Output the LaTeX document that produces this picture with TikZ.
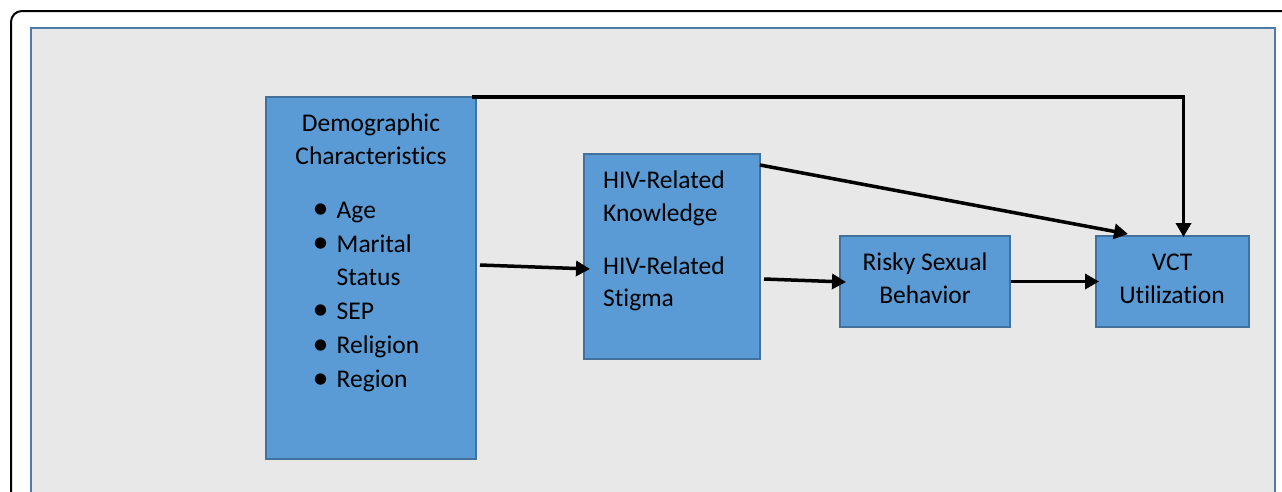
\documentclass[tikz,border=0pt]{standalone}
\usepackage{fontspec}
\setmainfont{Carlito}[Ligatures=NoCommon]
\usetikzlibrary{arrows.meta,calc}
\definecolor{boxfill}{HTML}{5B9BD5}
\definecolor{boxline}{HTML}{41719C}
\definecolor{panel}{HTML}{E8E8E8}
\definecolor{panelline}{HTML}{4F7BAA}
\begin{document}
\begin{tikzpicture}[x=1pt,y=-1pt,
  box/.style={draw=boxline,fill=boxfill,line width=1.5pt,inner sep=0pt,outer sep=0pt,anchor=north west},
  txt/.style={font=\fontsize{25.5}{33}\selectfont,inner sep=0pt,anchor=base},
  txtl/.style={txt,anchor=base west},
  bul/.style={font=\fontsize{32}{32}\selectfont,inner sep=0pt,anchor=base},
  conn/.style={line width=3.5pt,-{Triangle[length=14pt,width=15pt]}},
]
\useasboundingbox (0,0) rectangle (1282,491);
\begin{scope}
  \clip (0,0) rectangle (1282,491);
  \draw[line width=2pt,rounded corners=11pt] (11,11) rectangle (1320,540);
  \draw[panelline,fill=panel,line width=2.2pt] (31,28) rectangle (1275,540);
\end{scope}

\node[box,minimum width=210pt,minimum height=362pt] (demo) at (266,97) {};
\node[box,minimum width=176pt,minimum height=205pt] (hiv) at (584,154) {};
\node[box,minimum width=170pt,minimum height=91pt] (risky) at (840,236) {};
\node[box,minimum width=153pt,minimum height=91pt] (vct) at (1096,236) {};

% Demographic text
\node[txt] (d1) at (371,131.7) {Demographic};
\node[txt] (d2) at (371,164) {Characteristics};
\node[bul] (b1) at (320.5,218.5) {\textbullet};
\node[txtl] (l1) at (336.5,218) {Age};
\node[bul] (b2) at (320.5,252.5) {\textbullet};
\node[txtl] (l2) at (336.5,252) {Marital};
\node[txtl] (l3) at (336.5,285.5) {Status};
\node[bul] (b3) at (320.5,319.5) {\textbullet};
\node[txtl] (l4) at (336.5,319) {SEP};
\node[bul] (b4) at (320.5,354) {\textbullet};
\node[txtl] (l5) at (336.5,353.5) {Religion};
\node[bul] (b5) at (320.5,388) {\textbullet};
\node[txtl] (l6) at (336.5,387.5) {Region};

% HIV text
\node[txtl] (h1) at (603,188.3) {HIV-Related};
\node[txtl] (h2) at (603,221.7) {Knowledge};
\node[txtl] (h3) at (603,274) {HIV-Related};
\node[txtl] (h4) at (603,306.5) {Stigma};

% Risky / VCT text
\node[txt] (r1) at (925,270) {Risky Sexual};
\node[txt] (r2) at (925,303.3) {Behavior};
\node[txt] (v1) at (1172,270) {VCT};
\node[txt] (v2) at (1172,303.3) {Utilization};

% connectors
\coordinate (vtop) at ([shift={(11,1)}]vct.north);
\draw[conn] ([xshift=-4]demo.north east) -- (demo.north east -| vtop) -- (vtop);
\draw[conn] ([shift={(0,11)}]hiv.north east) -- ([shift={(32,-2)}]vct.north west);
\draw[conn] ([shift={(4,-13)}]demo.east) -- ([shift={(6,12.5)}]hiv.west);
\draw[conn] ([shift={(4,22.5)}]hiv.east) -- ([shift={(6,0.5)}]risky.west);
\draw[conn] ([xshift=1]risky.east) -- ([xshift=3]vct.west);
\end{tikzpicture}
\end{document}
